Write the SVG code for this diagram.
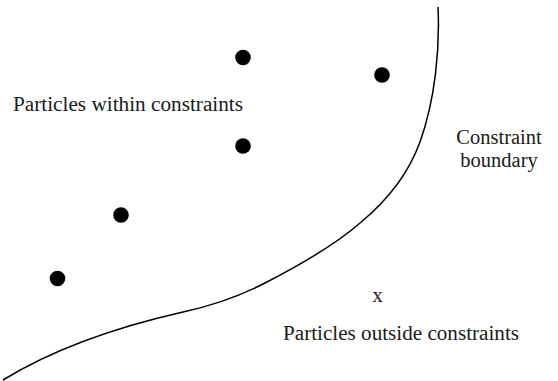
<svg xmlns="http://www.w3.org/2000/svg" width="558" height="381" viewBox="0 0 558 381">
<style>
.t{font-family:"Liberation Serif","Times New Roman",serif;font-size:20.5px;fill:#1a1a1a}
.p{fill:#000}
.b{fill:none;stroke:#000;stroke-width:1.5}
</style>
<rect width="558" height="381" fill="#fff"/>
<g id="boundary-curve">
<path class="b" d="M438,7 C440,50 435,100 420,142 C408,175 388,200 360,223 C335,245 300,265 265,283 C240,296 215,305 183,312 C130,324 60,345 3,380"/>
</g>
<g id="particles-inside">
<circle class="p" cx="243" cy="57.5" r="7.8"/>
<circle class="p" cx="382" cy="75" r="7.8"/>
<circle class="p" cx="243" cy="146" r="7.8"/>
<circle class="p" cx="121" cy="215" r="7.8"/>
<circle class="p" cx="57.5" cy="278.5" r="7.8"/>
</g>
<g id="labels">
<text class="t" x="13" y="111" textLength="230" lengthAdjust="spacingAndGlyphs">Particles within constraints</text>
<text class="t" x="499" y="144" text-anchor="middle">Constraint</text>
<text class="t" x="499" y="167" text-anchor="middle">boundary</text>
<text class="t" x="377.5" y="302" text-anchor="middle">x</text>
<text class="t" x="283" y="340" textLength="236" lengthAdjust="spacingAndGlyphs">Particles outside constraints</text>
</g>
</svg>
